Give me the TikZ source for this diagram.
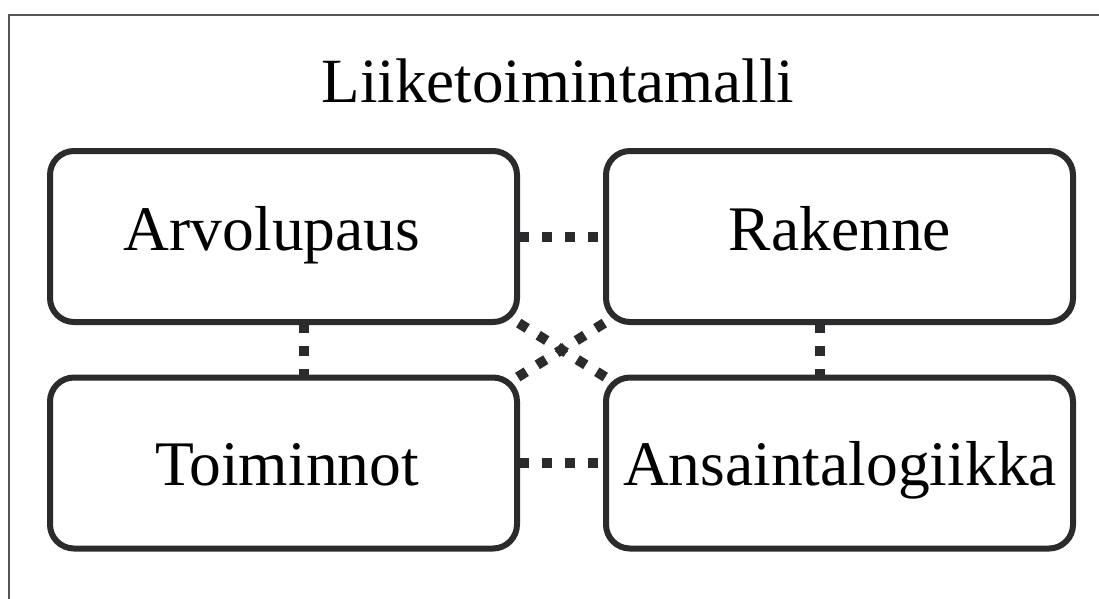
\documentclass[tikz,border=0pt]{standalone}
\usepackage{fontspec}
\setmainfont{Liberation Serif}
\definecolor{boxline}{HTML}{2B2B2D}
\definecolor{framegray}{HTML}{555555}
\begin{document}
\begin{tikzpicture}[x=1pt,y=-1pt,
  box/.style={draw=boxline, line width=6pt, rounded corners=24pt, outer sep=0pt,
    minimum width=467pt, minimum height=171pt, inner sep=0pt},
  lbl/.style={anchor=base, inner sep=0pt, font=\fontsize{63.5}{70}\selectfont},
  ttl/.style={anchor=base, inner sep=0pt, font=\fontsize{63}{70}\selectfont},
  link/.style={draw=boxline, line width=10pt, dash pattern=on 10pt off 13pt, dash phase=21pt},
  vlink/.style={link, dash phase=22pt}]
\useasboundingbox (0,0) rectangle (1099,598);
% frame
\draw[framegray, line width=1.3pt] (9,610) -- (9,15) -- (1110,15);
% boxes
\node[box] (b1) at (283.5,236.5) {};
\node[box] (b2) at (839.5,236.5) {};
\node[box] (b3) at (283.5,463) {};
\node[box] (b4) at (839.5,463) {};
% connectors
\draw[link] (b1.east) -- (b2.west);
\draw[link] (b3.east) -- (b4.west);
\draw[vlink] ([xshift=20pt]b1.south) -- ([xshift=20pt]b3.north);
\draw[vlink] ([xshift=-20pt]b2.south) -- ([xshift=-20pt]b4.north);
\draw[link] (b1.south east) -- (b4.north west);
\draw[link] (b2.south west) -- (b3.north east);
% texts
\node[ttl] (title) at (558,102) {Liiketoimintamalli};
\node[lbl] (t1) at (272,250) {Arvolupaus};
\node[lbl] (t2) at (840,250) {Rakenne};
\node[lbl] (t3) at (287,485) {Toiminnot};
\node[lbl] (t4) at (840,485) {Ansaintalogiikka};
\end{tikzpicture}
\end{document}
